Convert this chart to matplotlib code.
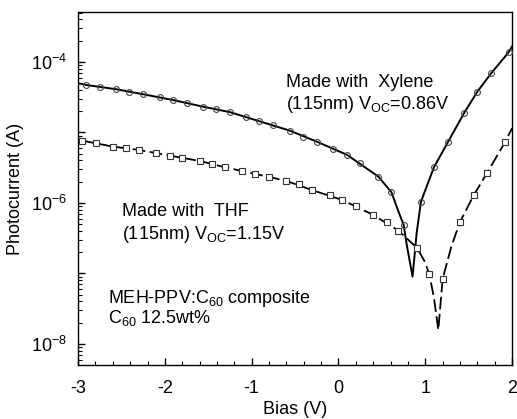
import numpy as np
import matplotlib
matplotlib.use("Agg")
import matplotlib.pyplot as plt
from matplotlib.ticker import LogLocator, FixedLocator, MultipleLocator, FuncFormatter

plt.rcParams['font.family'] = ['Liberation Sans', 'DejaVu Sans']
plt.rcParams['mathtext.fontset'] = 'custom'
plt.rcParams['mathtext.rm'] = 'Liberation Sans'
plt.rcParams['mathtext.it'] = 'Liberation Sans'
plt.rcParams['mathtext.default'] = 'regular'

# Xylene (circles) measured points
xyl_v = [-2.91, -2.75, -2.56, -2.41, -2.25, -2.06, -1.91, -1.75, -1.56, -1.41,
         -1.25, -1.06, -0.91, -0.75, -0.56, -0.41, -0.25, -0.06, 0.10, 0.25,
         0.46, 0.61, 0.75, 0.95, 1.10, 1.26, 1.45, 1.60, 1.76, 1.96]
xyl_i = [4.72e-5, 4.38e-5, 4.10e-5, 3.75e-5, 3.48e-5, 3.16e-5, 2.89e-5, 2.65e-5, 2.32e-5, 2.13e-5,
         1.94e-5, 1.64e-5, 1.44e-5, 1.27e-5, 1.06e-5, 8.7e-6, 7.4e-6, 5.83e-6, 4.80e-6, 3.66e-6,
         2.36e-6, 1.42e-6, 4.9e-7, 1.04e-6, 3.21e-6, 7.26e-6, 1.91e-5, 3.79e-5, 6.92e-5, 1.37e-4]
# Xylene fitted curve
xyl_fit_v = [-3.0, -2.91, -2.56, -2.25, -1.91, -1.56, -1.25, -0.91, -0.56, -0.25, 0.10,
             0.46, 0.61, 0.69, 0.75, 0.79, 0.825, 0.853, 0.875, 0.90, 0.95, 1.10,
             1.26, 1.45, 1.60, 1.76, 1.96, 2.0]
xyl_fit_i = [4.99e-5, 4.72e-5, 4.10e-5, 3.48e-5, 2.89e-5, 2.32e-5, 1.94e-5, 1.44e-5, 1.06e-5, 7.4e-6, 4.80e-6,
             2.36e-6, 1.42e-6, 7.6e-7, 4.9e-7, 2.4e-7, 1.4e-7, 9.0e-8, 1.7e-7, 3.7e-7, 1.04e-6, 3.21e-6,
             7.26e-6, 1.91e-5, 3.79e-5, 6.92e-5, 1.37e-4, 1.66e-4]

# THF (squares) measured points
thf_v = [-2.955, -2.79, -2.60, -2.45, -2.30, -2.10, -1.945, -1.80, -1.60, -1.457,
         -1.31, -1.11, -0.96, -0.80, -0.61, -0.45, -0.31, -0.10, 0.044, 0.20,
         0.40, 0.555, 0.69, 0.905, 1.046, 1.20, 1.40, 1.56, 1.714, 1.918]
thf_i = [7.66e-6, 7.03e-6, 6.30e-6, 5.97e-6, 5.65e-6, 5.16e-6, 4.69e-6, 4.31e-6, 3.94e-6, 3.54e-6,
         3.21e-6, 2.87e-6, 2.58e-6, 2.32e-6, 2.07e-6, 1.84e-6, 1.53e-6, 1.30e-6, 1.10e-6, 9.06e-7,
         6.76e-7, 5.43e-7, 4.05e-7, 2.30e-7, 9.84e-8, 8.36e-8, 5.37e-7, 1.30e-6, 2.69e-6, 7.26e-6]
# THF fitted curve
thf_fit_v = [-2.955, -2.60, -2.30, -1.945, -1.60, -1.31, -0.96, -0.61, -0.31, 0.044,
             0.40, 0.69, 0.905, 0.99, 1.046, 1.10, 1.15, 1.20, 1.30, 1.40, 1.56, 1.714,
             1.918, 2.0]
thf_fit_i = [7.66e-6, 6.30e-6, 5.65e-6, 4.69e-6, 3.94e-6, 3.21e-6, 2.58e-6, 2.07e-6, 1.53e-6, 1.10e-6,
             6.76e-7, 4.05e-7, 2.30e-7, 1.5e-7, 9.84e-8, 4.5e-8, 1.58e-8, 8.36e-8, 2.4e-7, 5.37e-7, 1.30e-6, 2.69e-6,
             7.26e-6, 1.15e-5]

fig = plt.figure(figsize=(5.17, 4.19), dpi=100)
ax = fig.add_axes([0.151, 0.129, 0.8395, 0.8425])

ax.plot(xyl_fit_v, xyl_fit_i, color='black', lw=1.4, zorder=2)
ax.plot(xyl_v, xyl_i, ls='none', marker='o', ms=4.2, mfc='none', mec='#444444', mew=0.8, zorder=3)
ax.plot(thf_fit_v, thf_fit_i, color='black', lw=1.3, ls=(0, (7, 2.5)), zorder=2)
ax.plot(thf_v, thf_i, ls='none', marker='s', ms=4.2, mfc='white', mec='#333333', mew=0.8, zorder=3)

ax.set_yscale('log')
ax.set_xlim(-3, 2)
ax.set_ylim(5.03e-9, 5.12e-4)

ax.xaxis.set_major_locator(MultipleLocator(1))
ax.xaxis.set_minor_locator(MultipleLocator(0.2))
ax.xaxis.set_major_formatter(FuncFormatter(lambda v, p: f"{v:.0f}"))
ax.yaxis.set_major_locator(FixedLocator([1e-8, 1e-7, 1e-6, 1e-5, 1e-4]))
ax.yaxis.set_minor_locator(LogLocator(base=10, subs=np.arange(2, 10)))
def yfmt(v, p):
    e = int(round(np.log10(v)))
    if e in (-4, -6, -8):
        return r'$10^{%d}$' % e
    return ''
ax.yaxis.set_major_formatter(FuncFormatter(yfmt))
ax.yaxis.set_minor_formatter(FuncFormatter(lambda v, p: ''))

ax.tick_params(which='both', direction='in', top=False, right=False, labelsize=13, color='black')
ax.tick_params(which='major', length=5, width=1)
ax.tick_params(which='minor', length=3, width=0.8)
ax.tick_params(axis='x', pad=11)
ax.tick_params(axis='y', pad=8)
for s in ax.spines.values():
    s.set_linewidth(1.0)

fig.text(295/517, 1-409/419, 'Bias (V)', fontsize=13, ha='center', va='center')
fig.text(16/517, 1-189/419, 'Photocurrent (A)', fontsize=13, ha='center', va='center', rotation=90)

fs = 13
ax.text(286/517, 1-82/419, 'Made with  Xylene', transform=fig.transFigure, fontsize=fs, va='center', ha='left')
ax.text(286/517, 1-104/419, r'(115nm) V$_{\mathregular{OC}}$=0.86V', transform=fig.transFigure, fontsize=fs, va='center', ha='left')
ax.text(122/517, 1-211/419, 'Made with  THF', transform=fig.transFigure, fontsize=fs, va='center', ha='left')
ax.text(122/517, 1-234/419, r'(115nm) V$_{\mathregular{OC}}$=1.15V', transform=fig.transFigure, fontsize=fs, va='center', ha='left')
ax.text(108/517, 1-298/419, r'MEH-PPV:C$_{\mathregular{60}}$ composite', transform=fig.transFigure, fontsize=fs, va='center', ha='left')
ax.text(108/517, 1-318/419, r'C$_{\mathregular{60}}$ 12.5wt%', transform=fig.transFigure, fontsize=fs, va='center', ha='left')

fig.savefig('out.png', dpi=100)
